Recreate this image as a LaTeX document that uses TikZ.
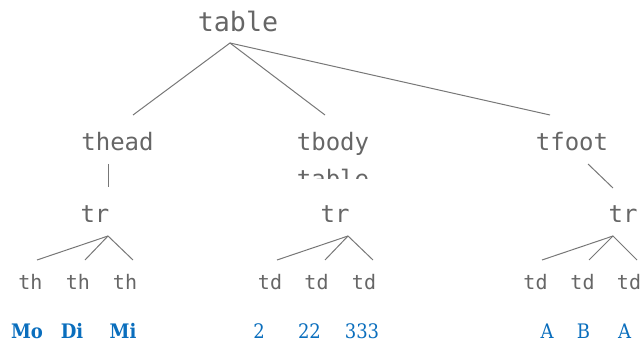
\documentclass[tikz,border=0pt]{standalone}
\usepackage{fontspec}
\setmonofont{DejaVu Sans Mono}
\newfontfamily\valfont{DejaVu Serif Condensed}
\definecolor{txtgray}{HTML}{666666}
\definecolor{linegray}{HTML}{777777}
\definecolor{valblue}{HTML}{0A6EBD}
\begin{document}
\begin{tikzpicture}[x=0.75pt,y=-0.75pt,
  tag/.style={anchor=base,inner sep=0pt,text=txtgray,font=\ttfamily\fontsize{#1}{#1}\selectfont},
  tag/.default=15,
  val/.style={anchor=base,inner sep=0pt,text=valblue,font=\valfont\fontsize{15}{15}\selectfont},
  edge/.style={draw=linegray,line width=0.75pt}]
\useasboundingbox (0,0) rectangle (642,342);
% nodes
\node[tag=20] (table) at (238,32) {table};
\node[tag=18] (thead) at (117.5,151) {thead};
\node[tag=18] (tbody) at (333,151) {tbody};
\node[tag=18] (tfoot) at (572,151) {tfoot};
\begin{scope}
  \clip (280,155) rectangle (390,178);
  \node[tag=18] (tbl2) at (333,187) {table};
\end{scope}
\node[tag=18] (tr1) at (95,222) {tr};
\node[tag=18] (tr2) at (335,222) {tr};
\node[tag=18] (tr3) at (623,222) {tr};
\node[tag] (th1) at (30.5,289) {th};
\node[tag] (th2) at (78,289) {th};
\node[tag] (th3) at (125,289) {th};
\node[tag] (td1) at (270,289) {td};
\node[tag] (td2) at (316.5,289) {td};
\node[tag] (td3) at (364,289) {td};
\node[tag] (td4) at (535.5,289) {td};
\node[tag] (td5) at (582.5,289) {td};
\node[tag] (td6) at (629,289) {td};
\node[val,font=\valfont\bfseries\fontsize{15}{15}\selectfont] (v1) at (27,338) {Mo};
\node[val,font=\valfont\bfseries\fontsize{15}{15}\selectfont] (v2) at (72,338) {Di};
\node[val,font=\valfont\bfseries\fontsize{15}{15}\selectfont] (v3) at (123,338) {Mi};
\node[val] (v4) at (259,338) {2};
\node[val] (v5) at (309.5,338) {22};
\node[val] (v6) at (362,338) {333};
\node[val] (v7) at (547,338) {A};
\node[val] (v8) at (583.5,338) {B};
\node[val] (v9) at (624.5,338) {A};
% connector points
\coordinate (ta) at (230,43);
\coordinate (ta1) at (133,115);
\coordinate (ta2) at (325,115);
\coordinate (ta3) at (550,115);
\coordinate (ha) at (108,164);
\coordinate (hb) at (108,187);
\coordinate (fa) at (588,164);
\coordinate (fb) at (613,188);
\coordinate (r1) at (108,236);
\coordinate (r1a) at (37,260);
\coordinate (r1b) at (85,260);
\coordinate (r1c) at (133,260);
\coordinate (r2) at (348,236);
\coordinate (r2a) at (277,260);
\coordinate (r2b) at (325,260);
\coordinate (r2c) at (373,260);
\coordinate (r3) at (613,236);
\coordinate (r3a) at (542,260);
\coordinate (r3b) at (589,260);
\coordinate (r3c) at (637,260);
% connectors
\draw[edge] (ta1) -- (ta) -- (ta2);
\draw[edge] (ta) -- (ta3);
\draw[edge] (ha) -- (hb);
\draw[edge] (fa) -- (fb);
\draw[edge] (r1a) -- (r1) -- (r1c);
\draw[edge] (r1) -- (r1b);
\draw[edge] (r2a) -- (r2) -- (r2c);
\draw[edge] (r2) -- (r2b);
\draw[edge] (r3a) -- (r3) -- (r3c);
\draw[edge] (r3) -- (r3b);
\end{tikzpicture}
\end{document}
